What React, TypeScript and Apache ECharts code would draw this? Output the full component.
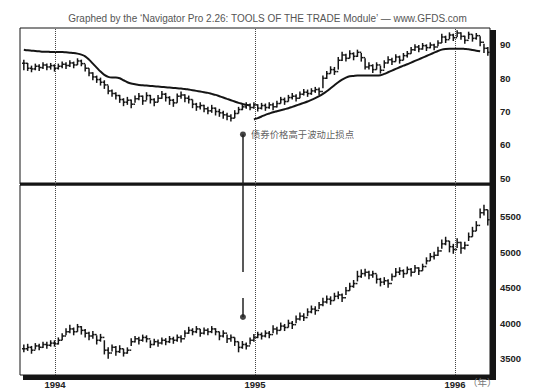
import React, { useEffect, useRef } from 'react';
import * as echarts from 'echarts';

// Weekly bars: first bar on Friday 1993-11-05, one bar per week.
const DAY = 86400000;
const FIRST_WEEK = Date.UTC(1993, 10, 5);
const AXIS_START = Date.UTC(1993, 9, 29);
const AXIS_END = Date.UTC(1996, 2, 5);
const YEAR_MARKS = [Date.UTC(1994, 0, 1), Date.UTC(1995, 0, 1), Date.UTC(1996, 0, 1)];
const YEAR_UNIT = '（年）';
const TITLE = 'Graphed by the ‘Navigator Pro 2.26: TOOLS OF THE TRADE Module’ — www.GFDS.com';

// Treasury bond futures (upper panel)
const bondClose = [
  84.5, 83.0, 82.8, 83.6, 83.2, 84.0, 83.4, 83.8, 83.0,
  83.6, 84.2, 83.8, 84.6, 84.0, 85.2, 84.4,
  83.0, 81.6, 80.4, 79.6, 78.8, 78.0,
  76.2, 75.4, 74.8, 73.6, 72.8, 73.4, 72.2,
  73.8, 74.6, 73.2, 74.8, 73.6, 72.8, 74.0, 75.2, 74.2, 73.4,
  72.6, 74.6, 75.0, 74.0, 73.6,
  72.2, 71.4, 71.8, 70.8, 70.2, 71.0, 70.0, 69.6,
  69.0, 68.6, 68.0, 69.4,
  70.6, 71.4, 72.0, 71.2, 72.0,
  71.0, 71.8, 71.2, 72.0, 71.4, 72.4, 73.6, 73.0, 74.2,
  74.6, 74.0, 75.2, 75.8, 75.4, 76.2, 76.6, 76.0,
  80.0, 81.4, 82.6, 82.0, 85.4, 87.0, 86.0, 87.4, 86.6, 87.8, 86.2,
  83.4, 83.8, 82.6, 84.0, 82.4,
  84.6, 85.6, 85.0, 86.4, 85.4, 86.8, 87.4,
  88.6, 89.4, 88.8, 89.8, 89.2, 90.0, 89.4, 90.6,
  92.4, 91.6, 93.0, 92.2, 93.6, 92.6, 91.4, 93.2, 92.0, 92.8, 90.8, 89.0,
  87.8,
];
const bondHigh = [
  85.6, 84.6, 83.8, 84.4, 84.2, 84.8, 84.4, 84.6, 84.2,
  84.4, 85.0, 84.8, 85.4, 85.0, 86.0, 85.6,
  84.2, 83.0, 81.8, 80.8, 80.2, 79.4,
  77.8, 76.6, 75.8, 75.0, 74.0, 74.4, 73.6,
  74.8, 75.6, 74.8, 75.8, 75.0, 74.0, 75.0, 76.2, 75.6, 74.6,
  73.8, 75.4, 76.0, 75.2, 74.8,
  73.6, 72.6, 72.8, 72.0, 71.4, 72.0, 71.2, 70.8,
  70.2, 69.6, 69.2, 70.4,
  71.4, 72.2, 72.8, 72.4, 72.8,
  72.2, 72.6, 72.4, 72.8, 72.6, 73.2, 74.4, 74.2, 75.0,
  75.6, 75.2, 76.0, 76.8, 76.6, 77.0, 77.4, 77.2,
  80.8, 82.2, 83.6, 83.4, 86.4, 88.0, 87.4, 88.4, 87.8, 88.6, 87.6,
  86.0, 84.8, 84.2, 84.8, 83.8,
  85.4, 86.6, 86.2, 87.2, 86.8, 87.6, 88.2,
  89.4, 90.2, 90.0, 90.6, 90.2, 90.8, 90.4, 91.4,
  93.4, 92.8, 93.8, 93.4, 94.4, 93.8, 92.8, 94.0, 93.2, 93.6, 92.6, 90.4,
  89.4,
];
const bondLow = [
  82.4, 82.2, 81.8, 82.4, 82.2, 82.8, 82.4, 82.6, 82.0,
  82.6, 83.0, 82.8, 83.4, 83.0, 84.0, 83.6,
  82.0, 80.6, 79.4, 78.6, 77.8, 76.8,
  75.2, 74.4, 73.6, 72.6, 71.6, 72.0, 71.0,
  72.6, 73.4, 72.0, 73.4, 72.4, 71.6, 72.8, 73.8, 73.0, 72.0,
  71.4, 72.6, 73.8, 72.8, 72.4,
  71.0, 70.2, 70.6, 69.8, 69.2, 69.6, 68.8, 68.4,
  67.8, 67.4, 67.0, 68.0,
  69.4, 70.4, 70.8, 70.4, 70.8,
  70.0, 70.6, 70.2, 70.8, 70.4, 71.2, 72.4, 72.0, 73.0,
  73.6, 73.0, 74.0, 74.8, 74.4, 75.0, 75.6, 75.0,
  77.0, 79.8, 81.4, 81.0, 82.6, 85.2, 85.0, 86.0, 85.4, 86.4, 85.0,
  82.6, 82.6, 81.6, 82.6, 81.4,
  83.0, 84.4, 84.0, 85.0, 84.4, 85.4, 86.2,
  87.4, 88.2, 87.8, 88.6, 88.2, 89.0, 88.4, 89.6,
  90.6, 90.6, 91.8, 91.2, 92.4, 91.6, 90.4, 91.8, 91.0, 91.6, 89.6, 87.6,
  86.8,
];
// Volatility stop: above the market through week 59, below it from week 60
const bondStopAbove = [
  88.6, 88.4, 88.3, 88.2, 88.1, 88.0, 88.0, 87.9, 87.9,
  87.9, 87.9, 87.8, 87.7, 87.6, 87.4, 87.1,
  86.6, 85.6, 84.4, 83.2, 82.0, 81.0,
  80.4, 80.2, 80.2, 80.0, 79.4, 78.8,
  78.4, 78.2, 78.0, 77.9, 77.8, 77.7, 77.6, 77.5, 77.4, 77.3, 77.2, 77.1, 77.0,
  76.9, 76.8, 76.6, 76.4, 76.2, 76.0, 75.8, 75.6, 75.3, 75.0,
  74.6, 74.2, 73.8, 73.4, 73.0, 72.6, 72.3, 72.0, 71.8,
];
const STOP_FLIP_WEEK = 60;
const bondStopBelow = [
  67.6, 68.0, 68.5, 69.0, 69.4, 69.8, 70.1, 70.4, 70.7, 71.0,
  71.4, 71.8, 72.2, 72.6, 73.0, 73.5, 74.0, 74.6,
  75.3, 76.1, 77.0, 77.9, 78.8, 79.6, 80.2, 80.6,
  80.7, 80.8, 80.8, 80.8, 80.8, 80.8, 80.8, 80.9,
  81.3, 81.8, 82.3, 82.8, 83.3, 83.8, 84.2,
  84.7, 85.2, 85.7, 86.2, 86.7, 87.2, 87.7, 88.2,
  88.6, 88.8, 88.9, 88.9, 88.9, 88.9, 88.8, 88.7, 88.5, 88.3, 88.1,
];

// Dow Jones Industrial Average (lower panel)
const stockClose = [
  3640, 3660, 3620, 3680, 3660, 3700, 3690, 3720, 3710,
  3760, 3820, 3880, 3920, 3880, 3950, 3900,
  3860, 3820, 3840, 3760, 3800,
  3620, 3580, 3660, 3600, 3640, 3580, 3620,
  3740, 3780, 3760, 3800, 3780,
  3700, 3740, 3720, 3760, 3740, 3780, 3760, 3800, 3780,
  3860, 3900, 3880, 3920, 3860, 3900, 3880, 3920, 3880,
  3820, 3860, 3780, 3800, 3740,
  3660, 3700, 3680, 3760,
  3800, 3840, 3820, 3860, 3840,
  3920, 3900, 3960, 3940, 4000, 3980,
  4060, 4100, 4080, 4160, 4200, 4180, 4260,
  4300, 4340, 4320, 4380, 4400, 4360,
  4460, 4520, 4560,
  4660, 4700, 4720, 4680, 4700,
  4620, 4580, 4600, 4560,
  4660, 4720, 4740, 4700, 4760, 4720, 4780, 4740, 4800,
  4880, 4940, 4960, 5020,
  5120, 5160, 5080,
  5040, 5140, 5060, 5100,
  5220, 5300, 5380,
  5560, 5600, 5460,
];
const stockHigh = [
  3700, 3710, 3680, 3720, 3710, 3740, 3740, 3760, 3760,
  3800, 3860, 3930, 3980, 3940, 3990, 3960,
  3920, 3880, 3890, 3830, 3850,
  3760, 3660, 3700, 3680, 3690, 3640, 3660,
  3790, 3820, 3810, 3840, 3830,
  3760, 3780, 3770, 3800, 3790, 3820, 3810, 3840, 3830,
  3900, 3950, 3930, 3960, 3920, 3940, 3930, 3960, 3930,
  3880, 3900, 3840, 3840, 3800,
  3740, 3750, 3730, 3800,
  3850, 3880, 3870, 3900, 3890,
  3970, 3950, 4010, 3990, 4050, 4030,
  4110, 4150, 4140, 4210, 4250, 4240, 4300,
  4360, 4390, 4380, 4430, 4450, 4420,
  4510, 4570, 4610,
  4740, 4760, 4770, 4740, 4740,
  4690, 4640, 4650, 4620,
  4700, 4780, 4790, 4760, 4800, 4780, 4820, 4790, 4840,
  4930, 4990, 5010, 5080,
  5180, 5220, 5160,
  5120, 5200, 5150, 5150,
  5280, 5360, 5440,
  5620, 5670, 5600,
];
const stockLow = [
  3590, 3610, 3570, 3630, 3620, 3650, 3640, 3670, 3670,
  3700, 3760, 3830, 3860, 3830, 3880, 3840,
  3800, 3760, 3780, 3700, 3740,
  3560, 3500, 3600, 3540, 3580, 3530, 3570,
  3680, 3730, 3700, 3740, 3730,
  3650, 3690, 3670, 3700, 3690, 3720, 3710, 3740, 3730,
  3800, 3850, 3830, 3860, 3810, 3840, 3830, 3860, 3830,
  3760, 3800, 3720, 3740, 3680,
  3590, 3640, 3630, 3700,
  3740, 3790, 3770, 3800, 3790,
  3860, 3840, 3900, 3890, 3940, 3920,
  4000, 4040, 4030, 4100, 4140, 4120, 4200,
  4240, 4280, 4260, 4320, 4340, 4300,
  4400, 4460, 4500,
  4590, 4640, 4660, 4620, 4640,
  4560, 4520, 4540, 4500,
  4600, 4660, 4680, 4640, 4700, 4660, 4720, 4680, 4740,
  4830, 4880, 4900, 4950,
  5050, 5100, 5000,
  4980, 5060, 4980, 5040,
  5160, 5220, 5300,
  5480, 5520, 5380,
];

// Annotations
const BOND_NOTE = '债券价格高于波动止损点';
const STOCK_NOTE = '在下跌趋势中买入股票';
const SIGNAL_DATE = Date.UTC(1994, 11, 10);
const NOTE_DATE = Date.UTC(1994, 10, 27);
const BOND_SIGNAL = 63.1;
const STOCK_SIGNAL = 4088;
const STOCK_NOTE_LEVEL = 4497;
const NOTE_GAP_TOP = 4723;
const NOTE_GAP_BOTTOM = 4356;

const BOND_MIN = 48.2;
const BOND_MAX = 95.11;
const STOCK_MIN = 3270;
const STOCK_MAX = 5950;

const weekDates = bondClose.map((_, i) => FIRST_WEEK + i * 7 * DAY);

const INK = '#151515';
const LATIN = "'Liberation Sans', Arial, sans-serif";
const CJK = "'Noto Sans CJK SC', sans-serif";

const toBars = (close: number[], high: number[], low: number[]) =>
  close.map((c, i) => [weekDates[i], i === 0 ? c : close[i - 1], c, low[i], high[i]]);

const renderBar = (_params: any, api: any) => {
  const t = api.value(0);
  const op = api.coord([t, api.value(1)]);
  const cl = api.coord([t, api.value(2)]);
  const lo = api.coord([t, api.value(3)]);
  const hi = api.coord([t, api.value(4)]);
  const style = { stroke: INK, lineWidth: 1.5 };
  return {
    type: 'group',
    children: [
      { type: 'line', shape: { x1: lo[0], y1: lo[1], x2: hi[0], y2: hi[1] }, style },
      { type: 'line', shape: { x1: op[0] - 1.8, y1: op[1], x2: op[0], y2: op[1] }, style },
      { type: 'line', shape: { x1: cl[0], y1: cl[1], x2: cl[0] + 1.8, y2: cl[1] }, style },
    ],
  };
};

const yearLines = () => ({
  silent: true,
  symbol: 'none',
  label: { show: false },
  lineStyle: { type: 'dotted', color: '#444', width: 1 },
  data: YEAR_MARKS.map((t) => ({ xAxis: t })),
});

const yearLabel = (value: number) => {
  const d = new Date(value);
  return d.getUTCMonth() === 0 && d.getUTCDate() === 1 ? String(d.getUTCFullYear()) : '';
};

const valueLabel = {
  margin: 10,
  fontSize: 9.5,
  fontWeight: 'bold',
  color: '#222',
  fontFamily: LATIN,
  showMinLabel: false,
  showMaxLabel: false,
  formatter: (v: number) => String(v),
};

const option: any = {
  animation: false,
  useUTC: true,
  backgroundColor: '#fff',
  title: {
    text: TITLE,
    left: 'center',
    top: 8,
    textStyle: { fontSize: 10, fontWeight: 'normal', color: '#555', fontFamily: LATIN },
  },
  grid: [
    { left: 20, right: 45, top: 28, height: 156, show: true, borderColor: INK, borderWidth: 1 },
    { left: 20, right: 45, top: 185, height: 190, show: true, borderColor: INK, borderWidth: 1 },
  ],
  xAxis: [
    {
      type: 'time', gridIndex: 0, min: AXIS_START, max: AXIS_END,
      axisLine: { show: false }, axisTick: { show: false }, axisLabel: { show: false }, splitLine: { show: false },
    },
    {
      type: 'time', gridIndex: 1, min: AXIS_START, max: AXIS_END,
      axisLine: { show: false }, axisTick: { show: false }, splitLine: { show: false },
      axisLabel: {
        interval: 0, hideOverlap: false, showMinLabel: false, showMaxLabel: false,
        margin: 4, fontSize: 9.5, fontWeight: 'bold', color: '#222', fontFamily: LATIN,
        formatter: yearLabel,
      },
    },
  ],
  yAxis: [
    {
      type: 'value', gridIndex: 0, position: 'right', min: BOND_MIN, max: BOND_MAX,
      axisLine: { show: false }, axisTick: { show: false }, splitLine: { show: false },
      axisLabel: valueLabel,
    },
    {
      type: 'value', gridIndex: 1, position: 'right', min: STOCK_MIN, max: STOCK_MAX,
      axisLine: { show: false }, axisTick: { show: false }, splitLine: { show: false },
      axisLabel: valueLabel,
    },
  ],
  series: [
    {
      type: 'custom', xAxisIndex: 0, yAxisIndex: 0,
      renderItem: renderBar,
      encode: { x: 0, y: [1, 2, 3, 4] },
      data: toBars(bondClose, bondHigh, bondLow),
    },
    {
      type: 'line', xAxisIndex: 0, yAxisIndex: 0, symbol: 'none', smooth: 0.3,
      lineStyle: { color: INK, width: 2 },
      data: bondStopAbove.map((v, i) => [weekDates[i], v]),
      markLine: yearLines(),
    },
    {
      type: 'line', xAxisIndex: 0, yAxisIndex: 0, symbol: 'none', smooth: 0.3,
      lineStyle: { color: INK, width: 2 },
      data: bondStopBelow.map((v, i) => [weekDates[STOP_FLIP_WEEK + i], v]),
    },
    {
      type: 'scatter', xAxisIndex: 0, yAxisIndex: 0, symbolSize: 6,
      itemStyle: { color: INK },
      label: {
        show: true, position: 'right', distance: 5, formatter: BOND_NOTE,
        fontSize: 9.4, color: '#333', fontFamily: CJK,
      },
      data: [[SIGNAL_DATE, BOND_SIGNAL]],
      markLine: {
        silent: true, symbol: 'none', label: { show: false },
        lineStyle: { type: 'solid', color: '#222', width: 1.5 },
        data: [[{ coord: [SIGNAL_DATE, BOND_SIGNAL] }, { coord: [SIGNAL_DATE, BOND_MIN] }]],
      },
    },
    {
      type: 'custom', xAxisIndex: 1, yAxisIndex: 1,
      renderItem: renderBar,
      encode: { x: 0, y: [1, 2, 3, 4] },
      data: toBars(stockClose, stockHigh, stockLow),
    },
    {
      type: 'scatter', xAxisIndex: 1, yAxisIndex: 1, symbolSize: 6,
      itemStyle: { color: INK },
      data: [[SIGNAL_DATE, STOCK_SIGNAL]],
      markLine: {
        silent: true, symbol: 'none', label: { show: false },
        lineStyle: { type: 'solid', color: '#222', width: 1.5 },
        data: [
          [{ coord: [SIGNAL_DATE, STOCK_MAX] }, { coord: [SIGNAL_DATE, NOTE_GAP_TOP] }],
          [{ coord: [SIGNAL_DATE, NOTE_GAP_BOTTOM] }, { coord: [SIGNAL_DATE, STOCK_SIGNAL] }],
        ],
      },
    },
    {
      type: 'scatter', xAxisIndex: 1, yAxisIndex: 1, symbolSize: 1,
      itemStyle: { opacity: 0 },
      label: {
        show: true, position: 'inside', formatter: STOCK_NOTE,
        fontSize: 9.4, color: '#333', fontFamily: CJK,
      },
      data: [[NOTE_DATE, STOCK_NOTE_LEVEL]],
      markLine: yearLines(),
    },
  ],
  graphic: [
    // heavy divider between the two panels
    { type: 'rect', shape: { x: 20, y: 182.5, width: 470, height: 3 }, style: { fill: INK }, silent: true },
    // drop shadow along the right and bottom of the frame
    { type: 'rect', shape: { x: 490, y: 30, width: 6, height: 350 }, style: { fill: INK }, silent: true },
    { type: 'rect', shape: { x: 23, y: 375, width: 473, height: 5 }, style: { fill: INK }, silent: true },
    {
      type: 'text', x: 468, y: 377,
      style: { text: YEAR_UNIT, fontSize: 9.5, fill: '#777', fontFamily: CJK },
      silent: true,
    },
  ],
};

export default function App() {
  const ref = useRef<HTMLDivElement>(null);
  useEffect(() => {
    const chart = echarts.init(ref.current!, null, { renderer: 'svg' });
    chart.setOption(option);
    return () => chart.dispose();
  }, []);
  return (
    <div
      ref={ref}
      style={{ position: 'fixed', left: 0, top: 0, width: 535, height: 391, background: '#fff' }}
    />
  );
}
